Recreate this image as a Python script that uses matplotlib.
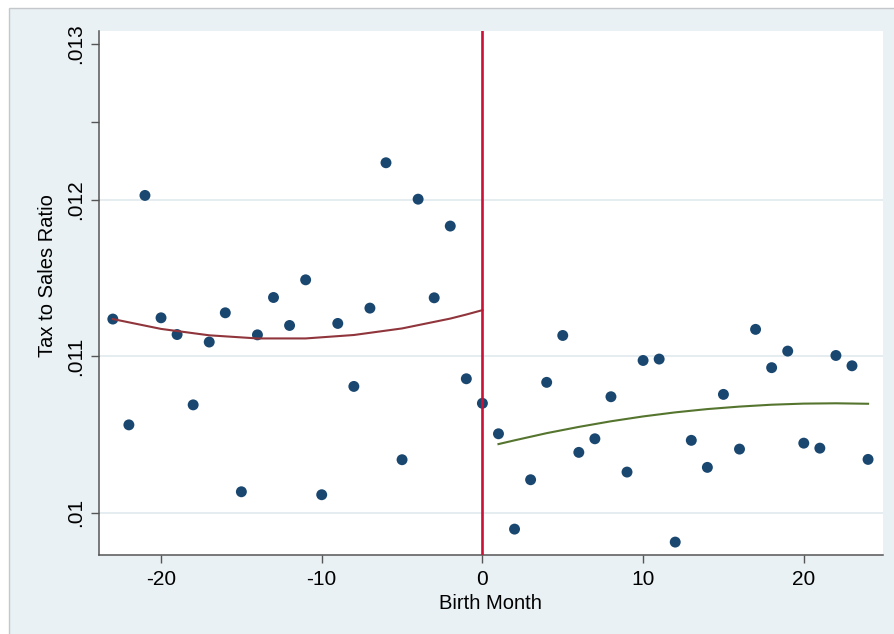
import numpy as np
import matplotlib
matplotlib.use("Agg")
import matplotlib.pyplot as plt
from matplotlib.patches import Rectangle

# Stata s2color 風の配色
color_list = ["#1a476f", "#90353b", "#55752f", "#cc1036"]
bg_color = "#e9f1f4"
grid_color = "#e4ecf0"

plt.rcParams['font.family'] = ['Liberation Sans', 'DejaVu Sans']

# データ (出生月と税売上比率)
month_left = list(range(-23, 1))
ratio_left = [0.011239, 0.010562, 0.012030, 0.011247, 0.011140, 0.010690,
              0.011092, 0.011279, 0.010134, 0.011138, 0.011377, 0.011198,
              0.011490, 0.010115, 0.011211, 0.010808, 0.011309, 0.012239,
              0.010339, 0.012006, 0.011375, 0.011834, 0.010857, 0.010700]
month_right = list(range(1, 25))
ratio_right = [0.010505, 0.009895, 0.010211, 0.010834, 0.011134, 0.010386,
               0.010473, 0.010742, 0.010260, 0.010974, 0.010983, 0.009812,
               0.010463, 0.010290, 0.010757, 0.010407, 0.011173, 0.010928,
               0.011034, 0.010445, 0.010413, 0.011006, 0.010940, 0.010341]

# 二次フィット線
fit_left_x = [-23, -20, -17, -14, -11, -8, -5, -2, -1, 0]
fit_left_y = [0.011239, 0.011176, 0.011135, 0.011115, 0.011115, 0.011137,
              0.011179, 0.011242, 0.011268, 0.011296]
fit_right_x = [1, 2, 4, 6, 8, 10, 12, 14, 16, 18, 20, 22, 24]
fit_right_y = [0.010439, 0.010463, 0.010509, 0.010549, 0.010585, 0.010616,
               0.010642, 0.010663, 0.010679, 0.010691, 0.010698, 0.010700,
               0.010697]

x_ticks = [-20, -10, 0, 10, 20]
y_ticks = [0.010, 0.011, 0.012, 0.013]
y_tick_labels = [".01", ".011", ".012", ".013"]
grid_vals = [0.010, 0.011, 0.012]

fig = plt.figure(figsize=(8.94, 6.34), dpi=100)
fig.patch.set_facecolor("white")
# 外枠
fig.patches.append(Rectangle((9/894, -0.01), 1.0, 1 - 8/634 + 0.01,
                             transform=fig.transFigure, facecolor=bg_color,
                             edgecolor="#c4c8ca", linewidth=1.0, zorder=-5))

ax = fig.add_axes([99/894, 1 - 555/634, 784/894, 524/634])
ax.set_facecolor("white")

for g in grid_vals:
    ax.axhline(g, color=grid_color, linewidth=1.3, zorder=1)

ax.scatter(month_left + month_right, ratio_left + ratio_right,
           s=62, color=color_list[0], edgecolors="none", zorder=3)

ax.plot(fit_left_x, fit_left_y, color=color_list[1], linewidth=1.5, zorder=4)
ax.plot(fit_right_x, fit_right_y, color=color_list[2], linewidth=1.5, zorder=4)

ax.axvline(0, color=color_list[3], linewidth=1.9, zorder=5)

ax.set_xlim(-23.86, 24.93)
ax.set_ylim(0.0097294, 0.013082)

ax.set_xticks(x_ticks)
ax.set_xticklabels([str(t) for t in x_ticks])
ax.set_yticks(y_ticks)
ax.set_yticklabels(y_tick_labels)
ax.set_yticks([0.0125], minor=True)

ax.tick_params(axis='both', which='both', direction='out', length=6,
               width=1.0, color="#555555", labelsize=15)
ax.tick_params(axis='x', pad=5)
ax.tick_params(axis='y', labelrotation=90, pad=4)
for lab in ax.get_yticklabels():
    lab.set_verticalalignment('center')

for side in ['top', 'right']:
    ax.spines[side].set_visible(False)
for side in ['left', 'bottom']:
    ax.spines[side].set_color("#555555")
    ax.spines[side].set_linewidth(1.1)

fig.text(490/894, 1 - 609/634, "Birth Month", fontsize=14.5,
         ha='center', va='baseline')
fig.text(48/894, 1 - 276/634, "Tax to Sales Ratio", fontsize=14.5,
         ha='center', va='center', rotation=90)

fig.savefig("out.png", dpi=100, facecolor=fig.get_facecolor())
